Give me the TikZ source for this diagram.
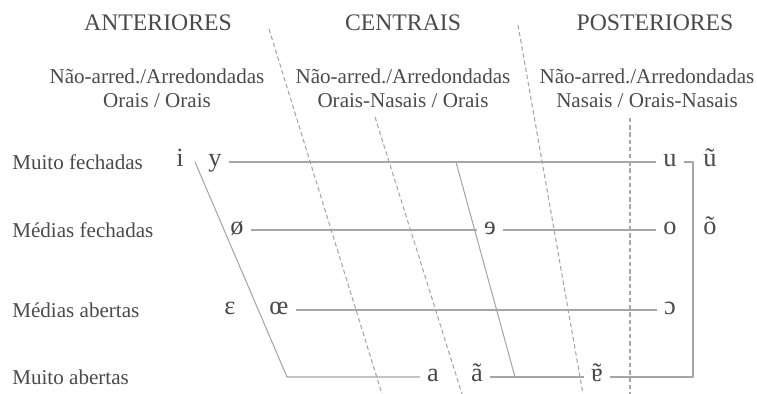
\documentclass[tikz,border=0pt]{standalone}
\usepackage{fontspec}
\setmainfont{Liberation Serif}
\usepackage{xcolor}
\usetikzlibrary{positioning}
\definecolor{vtext}{HTML}{4A4A4A}
\definecolor{vline}{HTML}{A6A6A6}
\newcommand{\nasalturneda}{\ooalign{ɐ\cr\hidewidth ˜\hidewidth\cr}}
\tikzset{
  hdr/.style={text=vtext, font=\rmfamily\fontsize{13.5}{15}\selectfont},
  sublab/.style={text=vtext, align=center, font=\rmfamily\fontsize{12}{13.6}\selectfont},
  rowlab/.style={text=vtext, anchor=west, inner sep=0pt, font=\rmfamily\fontsize{12}{14}\selectfont},
  vow/.style={text=vtext, inner sep=4pt, text height=1ex, text depth=0pt,
              font=\rmfamily\fontsize{15}{17}\selectfont},
  ln/.style={vline, line width=0.6pt},
  dln/.style={vline, line width=0.6pt, dash pattern=on 2.5pt off 1.6pt},
}

\begin{document}
\begin{tikzpicture}[x=0.02cm, y=-0.02cm, line join=round]
  \useasboundingbox (0,0) rectangle (757,394);

  %% headings
  \node[hdr] (hant) at (158,23) {ANTERIORES};
  \node[hdr] (hcen) at (403,23) {CENTRAIS};
  \node[hdr] (hpos) at (655,23) {POSTERIORES};

  \node[sublab] (sant) at (157,88) {Não-arred./Arredondadas\\Orais / Orais};
  \node[sublab] (scen) at (403,88) {Não-arred./Arredondadas\\Orais-Nasais / Orais};
  \node[sublab] (spos) at (647,88) {Não-arred./Arredondadas\\Nasais / Orais-Nasais};

  %% row labels
  \node[rowlab] (r1) at (12,162) {Muito fechadas};
  \node[rowlab] (r2) at (12,230) {Médias fechadas};
  \node[rowlab] (r3) at (12,310) {Médias abertas};
  \node[rowlab] (r4) at (12,377) {Muito abertas};

  %% vowels
  \node[vow] (vi)   at (180,162) {i};
  \node[vow] (vy)   at (215,162) {y};
  \node[vow] (vu)   at (670,162) {u};
  \node[vow] (vun)  at (710,162) {ũ};
  \node[vow] (voe)  at (237,230) {ø};
  \node[vow] (vce)  at (490,230) {ɘ};
  \node[vow] (vo)   at (670,230) {o};
  \node[vow] (von)  at (710,230) {õ};
  \node[vow] (veps) at (230,310) {ɛ};
  \node[vow] (voel) at (279,310) {œ};
  \node[vow] (vop)  at (670,310) {ɔ};
  \node[vow] (va)   at (433,377) {a};
  \node[vow] (van)  at (477,377) {ã};
  \node[vow] (vcn)  at (597,377) {\nasalturneda};

  %% corners of the lines
  \coordinate (s1top) at (195,162);
  \coordinate (s1bot) at (287,377);
  \coordinate (s2top) at (456,162);
  \coordinate (s2bot) at (515,377);
  \coordinate (brkb) at (693,377);
  \coordinate (brkt) at (693,162);

  \coordinate (d1top) at (269,29);
  \coordinate (d1bot) at (382,394);
  \coordinate (d2top) at (518,25);
  \coordinate (d2bot) at (583,394);
  \coordinate (d3top) at (630,118);
  \coordinate (d3bot) at (630,394);
  \coordinate (d4top) at (375,117);
  \coordinate (d4bot) at (462,394);

  %% solid lines
  \draw[ln] (vy) -- (vu);
  \draw[ln] (voe) -- (vce);
  \draw[ln] (vce) -- (vo);
  \draw[ln] (voel) -- (vop);
  \draw[ln] (s1top) -- (s1bot) -- (va);
  \draw[ln] (van) -- (vcn);
  \draw[ln] (s2top) -- (s2bot);
  \draw[ln] (vcn) -- (brkb) -- (brkt) -- (vu);

  %% dashed lines
  \draw[dln] (d1top) -- (d1bot);
  \draw[dln] (d2top) -- (d2bot);
  \draw[dln] (d3top) -- (d3bot);
  \draw[dln] (d4top) -- (d4bot);
\end{tikzpicture}
\end{document}
